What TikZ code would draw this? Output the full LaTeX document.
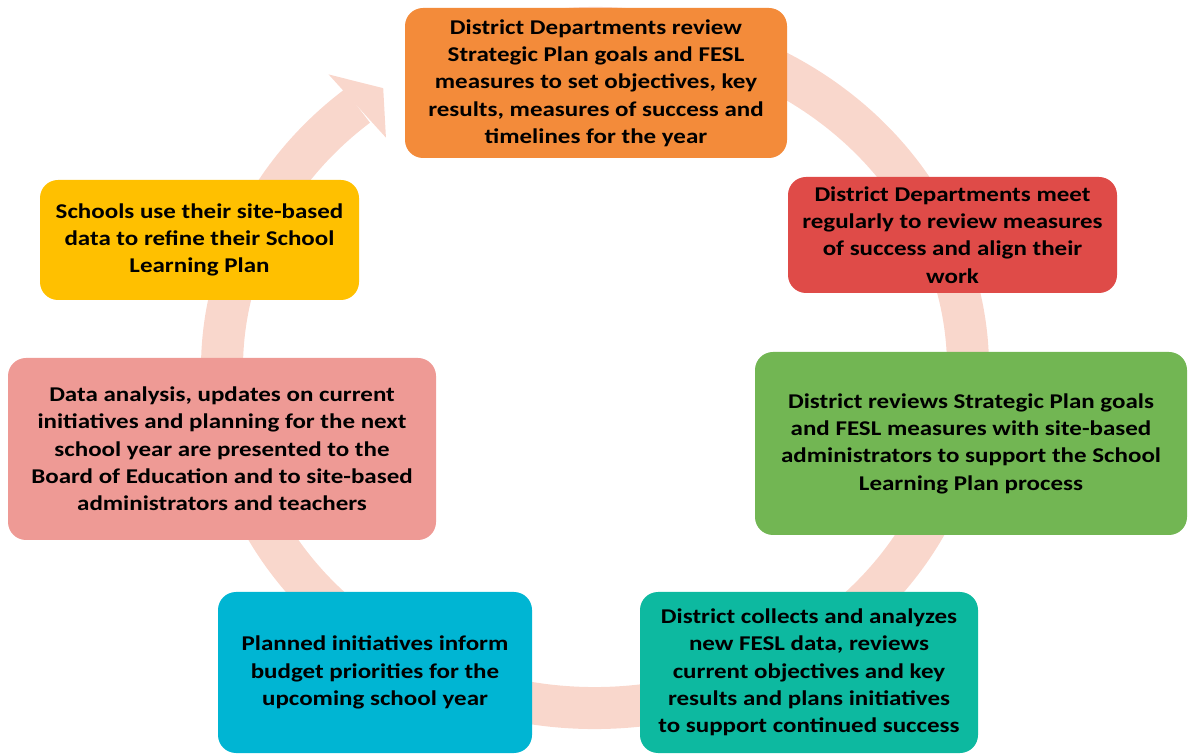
\documentclass[tikz,border=0pt]{standalone}
\usepackage{fontspec}
\setmainfont{Carlito}[FakeStretch=1.19]
\usepackage{xcolor}
\usepackage{tikz}
\usetikzlibrary{calc}
\usetikzlibrary{shapes}
\definecolor{ringpeach}{HTML}{F9D7CC}
\definecolor{stageorange}{HTML}{F38B3A}
\definecolor{stagered}{HTML}{DF4B48}
\definecolor{stagegreen}{HTML}{72B653}
\definecolor{stageteal}{HTML}{0DB9A0}
\definecolor{stageblue}{HTML}{00B5D3}
\definecolor{stagepink}{HTML}{EE9A95}
\definecolor{stageyellow}{HTML}{FFC000}
\tikzstyle{stage} = [rectangle, rounded corners=18pt, draw=none, inner sep=0pt, align=center, font=\fontsize{21}{27.3}\selectfont\bfseries]

\begin{document}
\begin{tikzpicture}[x=1pt, y=1pt]
\useasboundingbox (0,0) rectangle (1192,753);
\coordinate (hub) at (595,385);
% cycle ring and its head
\draw [line width=42pt, draw=ringpeach] (hub) ++(100:373 and 340) arc [start angle=100, end angle=-230.4, x radius=373, y radius=340];
\fill [ringpeach] ($(hub)+(129.6:418 and 381)$) -- ($(hub)+(124.6:373 and 340)$) -- ($(hub)+(129.6:328 and 299)$) -- cycle;
% stages
\node [stage, fill=stageorange, minimum width=382pt, minimum height=150pt] (review) at (596,670) {District Departments review\\Strategic Plan goals and FESL\\measures to set objectives, key\\results, measures of success and\\timelines for the year};
\node [stage, fill=stagered, minimum width=329pt, minimum height=116pt] (meet) at (952.5,518) {District Departments meet\\regularly to review measures\\of success and align their\\work};
\node [stage, fill=stagegreen, minimum width=432pt, minimum height=183pt] (support) at (971,309.5) {District reviews Strategic Plan goals\\and FESL measures with site-based\\administrators to support the School\\Learning Plan process};
\node [stage, fill=stageteal, minimum width=338pt, minimum height=161pt] (collect) at (809,80.5) {District collects and analyzes\\new FESL data, reviews\\current objectives and key\\results and plans initiatives\\to support continued success};
\node [stage, fill=stageblue, minimum width=314pt, minimum height=161pt] (budget) at (375,80.5) {Planned initiatives inform\\budget priorities for the\\upcoming school year};
\node [stage, fill=stagepink, minimum width=428pt, minimum height=182pt] (present) at (222,304) {Data analysis, updates on current\\initiatives and planning for the next\\school year are presented to the\\Board of Education and to site-based\\administrators and teachers};
\node [stage, fill=stageyellow, minimum width=319pt, minimum height=120pt] (refine) at (199.5,513) {Schools use their site-based\\data to refine their School\\Learning Plan};
\end{tikzpicture}
\end{document}
